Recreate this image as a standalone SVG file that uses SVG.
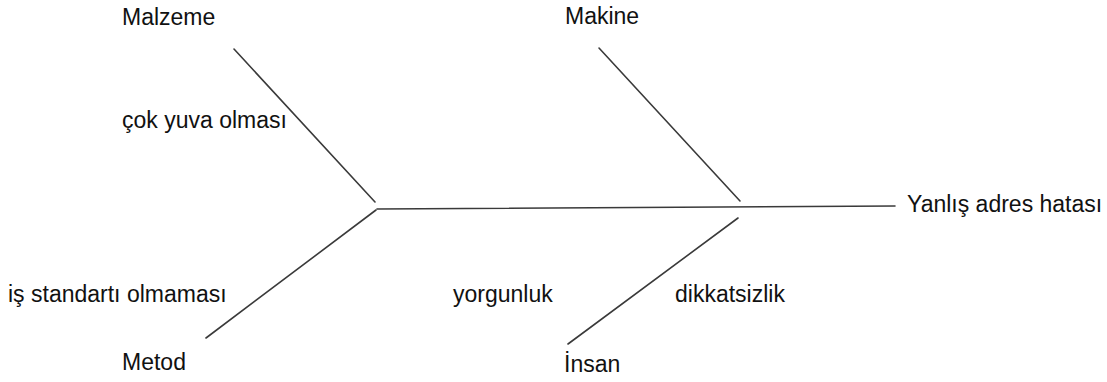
<svg xmlns="http://www.w3.org/2000/svg" width="1107" height="382" viewBox="0 0 1107 382">
  <style>
    .lbl { font-family: "Liberation Sans", Arial, sans-serif; font-size: 23px; fill: #111; }
    .bone { stroke: #3a3a3a; stroke-width: 1.6; fill: none; stroke-linecap: round; }
  </style>
  <rect width="1107" height="382" fill="#ffffff"/>

  <!-- spine and category bones -->
  <g id="connectors">
    <line class="bone" x1="377" y1="209" x2="895" y2="206"/>
    <line class="bone" x1="234" y1="49" x2="375" y2="202"/>
    <line class="bone" x1="376" y1="210" x2="206" y2="338"/>
    <line class="bone" x1="599" y1="48" x2="740" y2="201"/>
    <line class="bone" x1="738" y1="218" x2="568" y2="344"/>
  </g>

  <g id="effect">
    <text class="lbl" x="907" y="212">Yanlış adres hatası</text>
  </g>
  <g id="malzeme">
    <text class="lbl" x="122" y="25">Malzeme</text>
    <text class="lbl" x="122" y="128">çok yuva olması</text>
  </g>
  <g id="makine">
    <text class="lbl" x="565" y="24">Makine</text>
  </g>
  <g id="metod">
    <text class="lbl" x="8" y="302">iş standartı olmaması</text>
    <text class="lbl" x="122" y="370">Metod</text>
  </g>
  <g id="insan">
    <text class="lbl" x="453" y="302">yorgunluk</text>
    <text class="lbl" x="675" y="302">dikkatsizlik</text>
    <text class="lbl" x="564" y="372">İnsan</text>
  </g>
</svg>
